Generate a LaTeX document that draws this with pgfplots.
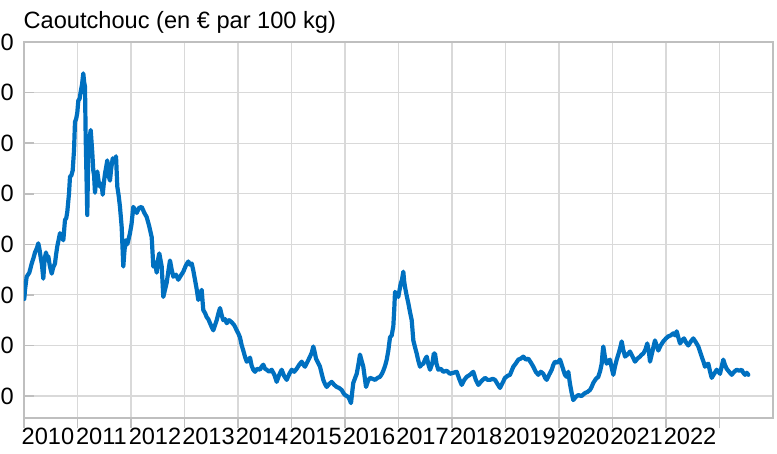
\documentclass[border=0pt]{standalone}
\usepackage{pgfplots}
\pgfplotsset{compat=1.18}
\usepackage{fontspec}
\setmainfont{Liberation Sans}
\definecolor{lineblue}{RGB}{0,112,192}
\definecolor{gridgray}{RGB}{217,217,217}
\definecolor{framegray}{RGB}{191,191,191}
\definecolor{tickgray}{RGB}{191,191,191}
\pgfplotsset{major tick length=10bp}
\pgfplotstableread{
t v
2010.005 196
2010.019 205
2010.050 218
2010.100 222
2010.144 231
2010.175 236
2010.206 242
2010.240 246
2010.267 251
2010.290 245
2010.312 237
2010.335 230
2010.361 216
2010.385 235
2010.411 242
2010.430 236
2010.454 238
2010.485 228
2010.518 221
2010.545 227
2010.579 231
2010.600 240
2010.622 248
2010.650 255
2010.673 261
2010.700 258
2010.735 254
2010.766 274
2010.790 276
2010.809 282
2010.841 300
2010.860 317
2010.885 318
2010.910 323
2010.935 343
2010.953 371
2010.975 374
2010.996 380
2011.015 392
2011.040 394
2011.060 401
2011.085 408
2011.108 419
2011.125 410
2011.140 406
2011.153 356
2011.183 279
2011.202 346
2011.225 355
2011.247 363
2011.277 340
2011.295 323
2011.310 318
2011.327 301
2011.350 315
2011.370 322
2011.395 312
2011.421 307
2011.450 310
2011.471 299
2011.495 312
2011.514 320
2011.535 326
2011.557 333
2011.580 318
2011.607 313
2011.630 325
2011.658 335
2011.690 331
2011.720 337
2011.744 307
2011.770 298
2011.794 287
2011.826 267
2011.856 228
2011.880 245
2011.907 254
2011.930 250
2011.950 254
2011.981 261
2012.010 270
2012.043 287
2012.075 284
2012.107 281
2012.150 286
2012.200 287
2012.250 281
2012.293 277
2012.340 268
2012.387 257
2012.417 228
2012.450 232
2012.480 222
2012.510 236
2012.529 241
2012.550 235
2012.574 228
2012.604 198
2012.635 205
2012.667 212
2012.700 224
2012.729 234
2012.760 225
2012.791 218
2012.840 220
2012.884 215
2012.930 219
2012.978 223
2013.025 229
2013.071 233
2013.100 230
2013.135 231
2013.165 224
2013.196 215
2013.230 205
2013.258 195
2013.290 200
2013.321 205
2013.351 185
2013.385 182
2013.415 178
2013.445 176
2013.477 172
2013.510 168
2013.538 165
2013.570 170
2013.602 175
2013.635 182
2013.664 187
2013.695 180
2013.725 175
2013.760 176
2013.789 172
2013.835 175
2013.882 173
2013.930 170
2013.976 165
2014.005 162
2014.037 158
2014.070 150
2014.099 145
2014.130 139
2014.163 134
2014.195 135
2014.224 138
2014.255 130
2014.286 126
2014.318 124
2014.360 127
2014.411 126
2014.440 129
2014.473 131
2014.505 127
2014.536 126
2014.585 124
2014.630 126
2014.680 121
2014.723 114
2014.770 121
2014.817 126
2014.860 120
2014.910 116
2014.960 122
2015.004 126
2015.050 124
2015.097 127
2015.145 131
2015.191 134
2015.220 131
2015.252 129
2015.300 134
2015.346 139
2015.380 143
2015.408 149
2015.435 143
2015.458 137
2015.495 133
2015.533 129
2015.565 122
2015.594 116
2015.625 112
2015.658 109
2015.705 112
2015.751 114
2015.800 111
2015.845 109
2015.890 108
2015.938 106
2015.970 103
2016.000 101
2016.035 100
2016.062 99
2016.090 96
2016.112 93
2016.135 104
2016.155 113
2016.190 118
2016.219 122
2016.250 131
2016.280 141
2016.310 135
2016.342 129
2016.370 118
2016.393 109
2016.430 115
2016.467 118
2016.515 117
2016.561 116
2016.610 118
2016.654 119
2016.690 122
2016.716 125
2016.750 130
2016.780 136
2016.810 145
2016.841 158
2016.873 160
2016.903 169
2016.920 185
2016.935 203
2016.965 200
2016.996 198
2017.020 205
2017.041 211
2017.065 215
2017.090 223
2017.105 214
2017.121 208
2017.150 200
2017.183 192
2017.215 183
2017.247 175
2017.262 165
2017.277 155
2017.310 148
2017.340 142
2017.370 135
2017.402 129
2017.430 131
2017.464 132
2017.495 136
2017.527 139
2017.560 131
2017.589 126
2017.635 133
2017.660 142
2017.682 142
2017.710 132
2017.744 126
2017.790 127
2017.837 124
2017.900 125
2017.963 122
2018.025 123
2018.088 124
2018.135 117
2018.181 111
2018.230 116
2018.275 119
2018.335 121
2018.398 124
2018.445 116
2018.492 111
2018.555 115
2018.617 118
2018.665 116
2018.710 116
2018.760 117
2018.804 116
2018.850 112
2018.897 108
2018.945 113
2018.991 118
2019.040 120
2019.084 121
2019.115 125
2019.146 129
2019.190 132
2019.239 136
2019.285 137
2019.333 139
2019.380 136
2019.426 137
2019.475 133
2019.520 129
2019.565 124
2019.613 121
2019.660 124
2019.707 122
2019.740 118
2019.770 116
2019.815 121
2019.864 126
2019.895 131
2019.925 134
2019.970 133
2020.019 136
2020.050 131
2020.080 126
2020.110 121
2020.144 119
2020.174 124
2020.205 112
2020.237 103
2020.267 96
2020.310 99
2020.361 101
2020.420 100
2020.486 103
2020.530 104
2020.579 106
2020.610 109
2020.641 113
2020.690 117
2020.734 119
2020.770 125
2020.798 132
2020.815 143
2020.828 149
2020.860 138
2020.891 132
2020.920 134
2020.953 136
2020.985 128
2021.015 121
2021.045 129
2021.079 136
2021.125 144
2021.150 149
2021.172 154
2021.200 146
2021.234 139
2021.280 141
2021.327 144
2021.375 139
2021.421 134
2021.465 137
2021.514 139
2021.545 141
2021.576 142
2021.615 146
2021.650 152
2021.680 144
2021.701 134
2021.750 145
2021.794 155
2021.825 150
2021.856 145
2021.900 150
2021.949 154
2022.000 157
2022.043 159
2022.090 160
2022.136 162
2022.170 160
2022.200 164
2022.230 158
2022.262 152
2022.300 155
2022.336 157
2022.375 153
2022.417 150
2022.465 154
2022.510 157
2022.560 153
2022.604 149
2022.635 144
2022.667 139
2022.700 134
2022.729 129
2022.760 131
2022.791 132
2022.820 125
2022.854 118
2022.900 122
2022.948 126
2022.980 124
2023.009 122
2023.040 129
2023.071 136
2023.100 131
2023.134 127
2023.180 124
2023.228 121
2023.275 124
2023.321 126
2023.370 125
2023.415 126
2023.445 123
2023.477 121
2023.510 123
2023.538 121
}\rubber
\begin{document}
\begin{tikzpicture}
\begin{axis}[
  scale only axis, width=749bp, height=376bp,
  xmin=2010, xmax=2024, ymin=78.3, ymax=450,
  axis line style={framegray, line width=1.6bp},
  grid=major,
  major grid style={gridgray, line width=1.2bp},
  xtick={2010,2011,2012,2013,2014,2015,2016,2017,2018,2019,2020,2021,2022,2023},
  xticklabels={2010,2011,2012,2013,2014,2015,2016,2017,2018,2019,2020,2021,2022,{}},
  ytick={100,150,200,250,300,350,400,450},
  yticklabels={100,150,200,250,300,350,400,450},
  xtick pos=bottom, ytick pos=left,
  xtick align=outside, ytick align=inside,
  major tick length=10bp,
  tick style={draw=tickgray, line width=1.6bp},
  tick label style={font=\fontsize{23.6bp}{26bp}\selectfont},
  x tick label style={xshift=24bp, yshift=0bp, inner sep=0pt, anchor=north},
  y tick label style={inner sep=0pt, xshift=-10bp},
  clip=true,
]
\addplot[lineblue, line width=4.2bp, line join=round, line cap=round] table[x=t, y=v] {\rubber};
\coordinate (ll) at (rel axis cs:0,0);
\coordinate (ur) at (rel axis cs:1,1);
\coordinate (ul) at (rel axis cs:0,1);
\end{axis}
\node[anchor=base west, inner sep=0pt, font=\fontsize{23.6bp}{26bp}\selectfont] at ([xshift=-0.5bp, yshift=13bp]ul) {Caoutchouc (en € par 100 kg)};
\pgfresetboundingbox
\path[use as bounding box] ([shift={(-24bp,-36bp)}]ll) rectangle ([shift={(4bp,42bp)}]ur);
\end{tikzpicture}
\end{document}
